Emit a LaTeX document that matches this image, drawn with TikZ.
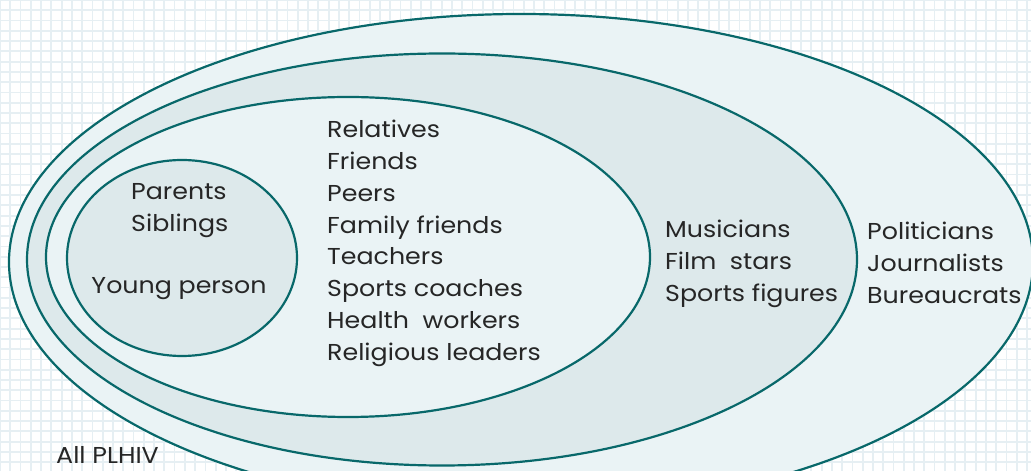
\documentclass[tikz,border=0pt]{standalone}
\usepackage{fontspec}
\setmainfont{Poppins}[FakeStretch=1.1]
\usetikzlibrary{shapes.geometric}

\definecolor{ringline}{RGB}{8,104,106}
\definecolor{ringpale}{RGB}{234,243,245}
\definecolor{ringdark}{RGB}{221,233,235}
\definecolor{paper}{RGB}{230,239,243}
\definecolor{ink}{RGB}{38,38,38}

\begin{document}
\begin{tikzpicture}[x=1pt,y=1pt,
  ring/.style={ellipse,draw=ringline,line width=2.2pt,inner sep=0pt},
  names/.style={align=left,anchor=north west,inner sep=0pt,text=ink,
    font=\fontsize{23}{31.8}\selectfont}]
  \clip (0,0) rectangle (1031,471);
  \fill[white] (0,0) rectangle (1031,471);
  % squared paper behind the rings
  \foreach \i in {0,...,100}
    \draw[paper,line width=1.8pt] (\i*10.27,0) -- (\i*10.27,471);
  \foreach \j in {0,...,46}
    \draw[paper,line width=1.8pt] (0,471-\j*10.27) -- (1031,471-\j*10.27);

  \path
  node[ring,fill=ringpale,minimum width=1024,minimum height=496] (plhiv) at (521,209) {}
  node[ring,fill=ringdark,minimum width=830,minimum height=412] (public) at (442,211.5) {}
  node[ring,fill=ringpale,minimum width=604,minimum height=320] (network) at (348,214) {}
  node[ring,fill=ringdark,minimum width=230,minimum height=196] (family) at (182,213) {}
  ;

  \path
  node[names] (kin) at (131,288) {Parents\\Siblings}
  node[names,anchor=base] (young) at (179,177) {Young person}
  node[names] (circle) at (327,351) {Relatives\\Friends\\Peers\\Family friends\\Teachers\\Sports coaches\\Health\ \ workers\\Religious leaders}
  node[names] (celebs) at (665,251) {Musicians\\Film\ \ stars\\Sports figures}
  node[names] (officials) at (867,249) {Politicians\\Journalists\\Bureaucrats}
  node[names,anchor=base west] (all) at (56,7) {All PLHIV}
  ;
\end{tikzpicture}
\end{document}
